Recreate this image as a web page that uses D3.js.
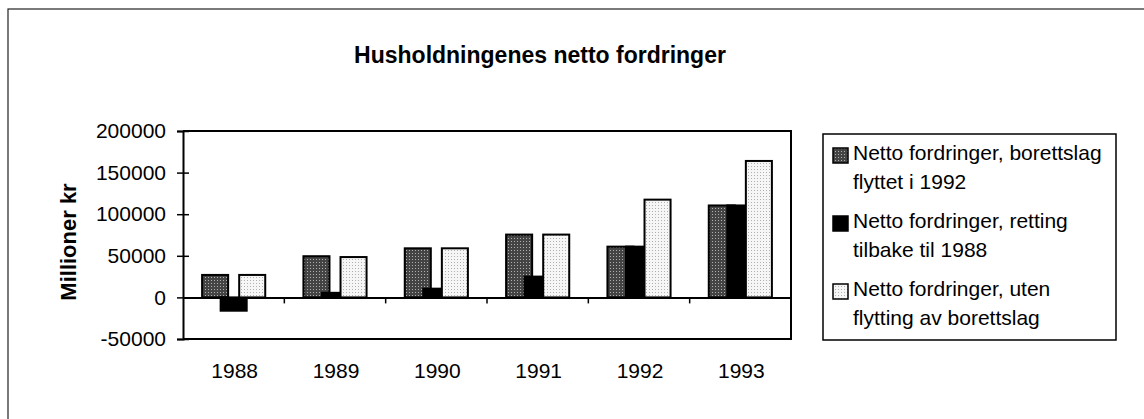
<!DOCTYPE html>
<html>
<head>
<meta charset="utf-8">
<script src="https://cdn.jsdelivr.net/npm/d3@7/dist/d3.min.js"></script>
<style>
  body { margin: 0; background: #fff; }
  svg { display: block; }
  text { font-family: "Liberation Sans", Arial, sans-serif; fill: #000; }
</style>
</head>
<body>
<svg id="chart" width="1144" height="419"></svg>
<script>
const categories = ["1988", "1989", "1990", "1991", "1992", "1993"];
const seriesNames = [
  ["Netto fordringer, borettslag", "flyttet i 1992"],
  ["Netto fordringer, retting", "tilbake til 1988"],
  ["Netto fordringer, uten", "flytting av borettslag"]
];
const borettslagFlyttet = [27000, 49500, 59000, 75500, 61000, 110500];
const rettingTilbake = [-16000, 5500, 10500, 25000, 61000, 110500];
const utenFlytting = [27000, 48500, 59000, 75500, 117500, 164000];
const yTicks = [-50000, 0, 50000, 100000, 150000, 200000];
const titleText = "Husholdningenes netto fordringer";
const yLabel = "Millioner kr";

const series = [borettslagFlyttet, rettingTilbake, utenFlytting];
const fills = ["url(#pDark)", "#000", "url(#pLight)"];

const svg = d3.select("#chart");
const defs = svg.append("defs");
const pd = defs.append("pattern").attr("id", "pDark").attr("patternUnits", "userSpaceOnUse")
  .attr("width", 3).attr("height", 3);
pd.append("rect").attr("width", 3).attr("height", 3).attr("fill", "#444");
pd.append("rect").attr("x", 1).attr("y", 1).attr("width", 1).attr("height", 1).attr("fill", "#b0b0b0");
const pl = defs.append("pattern").attr("id", "pLight").attr("patternUnits", "userSpaceOnUse")
  .attr("width", 3).attr("height", 3);
pl.append("rect").attr("width", 3).attr("height", 3).attr("fill", "#f6f6f6");
pl.append("rect").attr("x", 1).attr("y", 1).attr("width", 1).attr("height", 1).attr("fill", "#b0b0b0");

// outer frame
svg.append("rect").attr("x", 8).attr("y", 9).attr("width", 1300).attr("height", 600)
  .attr("fill", "none").attr("stroke", "#222").attr("stroke-width", 1.2);

const pLeft = 183, pRight = 791, pTop = 131, pBottom = 339;
const x = d3.scaleBand().domain(categories).range([pLeft, pRight]).padding(0);
const y = d3.scaleLinear().domain([-50000, 200000]).range([pBottom, pTop]);

const bw = x.bandwidth();
const barW = bw * 0.257;
const step = bw * 0.183;

// bars
series.forEach((vals, si) => {
  svg.append("g").selectAll("rect").data(vals).join("rect")
    .attr("x", (d, i) => x(categories[i]) + bw / 2 + (si - 1) * step - barW / 2)
    .attr("width", barW)
    .attr("y", d => y(Math.max(0, d)))
    .attr("height", d => Math.abs(y(d) - y(0)))
    .attr("fill", fills[si])
    .attr("stroke", "#000").attr("stroke-width", 2);
});

// plot border (top, right, bottom)
svg.append("path")
  .attr("d", `M${pLeft},${pTop}H${pRight}V${pBottom}H${pLeft}`)
  .attr("fill", "none").attr("stroke", "#000").attr("stroke-width", 2);

// y axis
const yAxis = svg.append("g").attr("transform", `translate(${pLeft},0)`)
  .call(d3.axisLeft(y).tickValues(yTicks).tickSize(6).tickPadding(11).tickFormat(d => String(d)));
yAxis.select(".domain").attr("stroke-width", 2).attr("stroke", "#000");
yAxis.selectAll(".tick line").attr("x1", 6).attr("stroke-width", 1.5);
yAxis.selectAll(".tick text").style("font-size", "21px").attr("font-family", null);

// zero axis with category ticks
const xAxis = svg.append("g").attr("transform", `translate(0,${y(0)})`)
  .call(d3.axisBottom(x).tickValues([]).tickSizeOuter(0));
xAxis.select(".domain").attr("stroke-width", 2).attr("stroke", "#000");
svg.append("g").selectAll("line").data(categories.slice(1)).join("line")
  .attr("x1", d => x(d)).attr("x2", d => x(d))
  .attr("y1", y(0)).attr("y2", y(0) + 6)
  .attr("stroke", "#000").attr("stroke-width", 1.5);

// category labels
svg.append("g").selectAll("text").data(categories).join("text")
  .attr("x", d => x(d) + bw / 2 + 1).attr("y", 378)
  .attr("text-anchor", "middle").style("font-size", "21px").text(d => d);

// title
svg.append("text").attr("x", 540).attr("y", 63).attr("text-anchor", "middle")
  .style("font-size", "23px").style("font-weight", "bold").text(titleText);

// y label
svg.append("text").attr("transform", "translate(76,242) rotate(-90)")
  .attr("text-anchor", "middle").style("font-size", "22px").style("font-weight", "bold").text(yLabel);

// legend
svg.append("rect").attr("x", 823).attr("y", 134).attr("width", 293).attr("height", 206)
  .attr("fill", "#fff").attr("stroke", "#000").attr("stroke-width", 1.5);
const legendBase = [160, 228, 296];
seriesNames.forEach((lines, si) => {
  const g = svg.append("g");
  g.append("rect").attr("x", 833).attr("y", legendBase[si] - 12).attr("width", 15).attr("height", 15)
    .attr("fill", fills[si]).attr("stroke", "#000").attr("stroke-width", 1.5);
  lines.forEach((t, li) => {
    g.append("text").attr("x", 853).attr("y", legendBase[si] + li * 29)
      .style("font-size", "21px").text(t);
  });
});
</script>
</body>
</html>
